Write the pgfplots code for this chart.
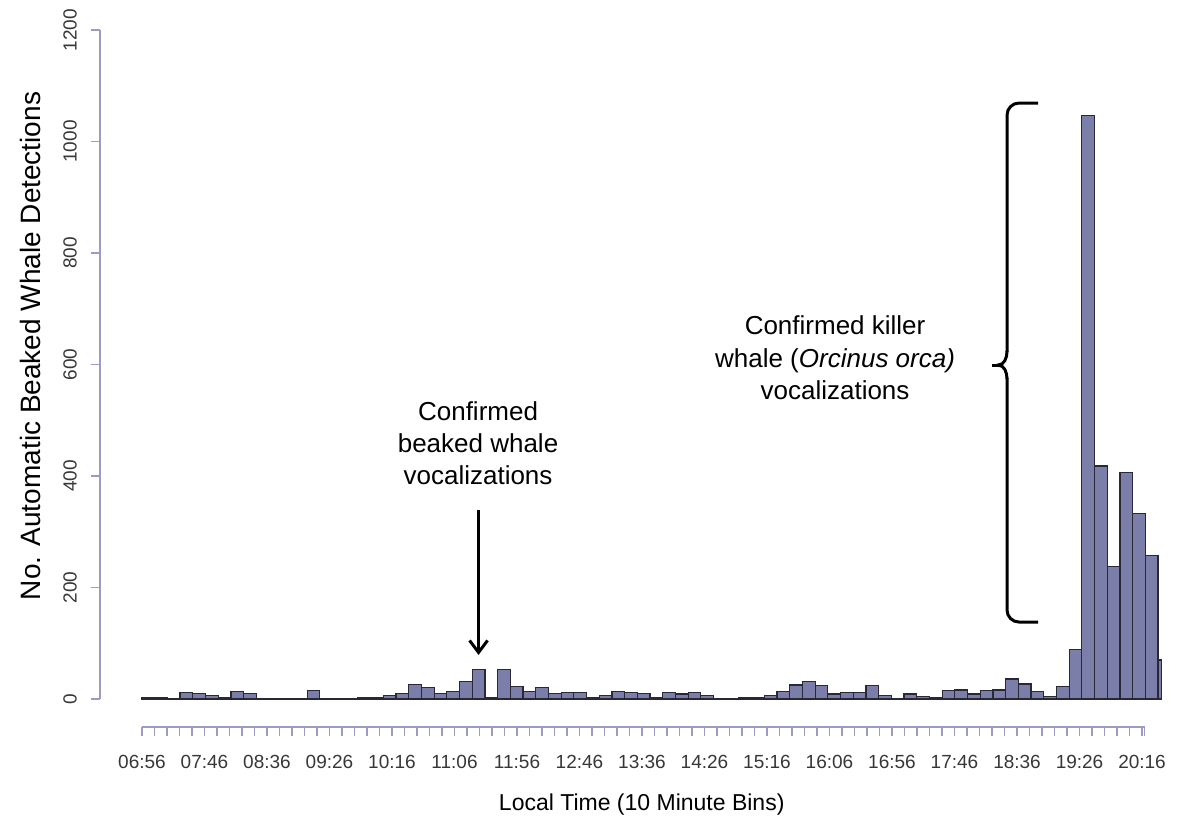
\documentclass[border=0pt]{standalone}
\usepackage{pgfplots}
\pgfplotsset{compat=1.18}
\usepackage{fontspec}
\setmainfont{Liberation Sans}
\usetikzlibrary{arrows.meta}
\definecolor{barfill}{RGB}{124,126,170}
\definecolor{baredge}{RGB}{40,40,55}
\definecolor{axcol}{RGB}{155,155,195}
\definecolor{ticklab}{RGB}{55,55,55}
\begin{document}
\begin{tikzpicture}
\path[use as bounding box] (-71pt,-61pt) rectangle (523pt,349.5pt);
\begin{axis}[
  at={(0,0)}, anchor=south west,
  scale only axis, width=509.905pt, height=334.5pt,
  xmin=0, xmax=80.3, ymin=0, ymax=1200,
  clip=false,
  axis x line*=bottom, axis y line*=left,
  x axis line style={draw=none},
  y axis line style={-, draw=axcol, line width=0.6pt, xshift=-21pt},
  tick align=outside,
  major tick length=4.5pt, minor tick length=4.5pt,
  xtick={0,4.92125,...,78.8},
  xticklabels={06:56,07:46,08:36,09:26,10:16,11:06,11:56,12:46,13:36,14:26,15:16,16:06,16:56,17:46,18:36,19:26,20:16},
  minor xtick={0,0.98425,...,78.8},
  xtick style={draw=axcol, line width=0.6pt, yshift=-14pt},
  ytick={0,200,...,1200},
  ytick style={draw=axcol, line width=0.6pt, xshift=-21pt},
  /pgf/number format/assume math mode=true,
  /pgf/number format/set thousands separator={},
  yticklabel style={rotate=90, anchor=south, font=\fontsize{9.5}{11}\selectfont, text=ticklab},
  yticklabel shift=24.5pt,
  xticklabel style={font=\fontsize{9.5}{11}\selectfont, text=ticklab},
  xticklabel shift=20pt,
  xlabel={Local Time (10 Minute Bins)},
  xlabel style={at={(axis description cs:0.490,-0.1584)}, anchor=center, font=\fontsize{11.5}{14}\selectfont},
  ylabel={No. Automatic Beaked Whale Detections},
  ylabel style={at={(axis description cs:-0.1098,0.5277)}, anchor=center, font=\fontsize{14}{16}\selectfont},
]
\addplot[ybar interval, fill=barfill, draw=baredge, line width=0.6pt] coordinates {
(0,3)(1,3)(2,1)(3,12)(4,10)(5,7)(6,2)(7,13)(8,10)(9,0)(10,0)(11,0)(12,0)(13,15)(14,0)(15,0)(16,0)(17,3)(18,3)(19,6)(20,10)(21,26)(22,20)(23,10)(24,13)(25,31)(26,53)(27,3)(28,53)(29,22)(30,13)(31,20)(32,10)(33,12)(34,12)(35,3)(36,6)(37,13)(38,12)(39,10)(40,3)(41,12)(42,9)(43,12)(44,6)(45,0)(46,0)(47,3)(48,3)(49,6)(50,13)(51,25)(52,31)(53,24)(54,9)(55,11)(56,11)(57,24)(58,6)(59,1)(60,9)(61,4)(62,2)(63,15)(64,16)(65,9)(66,15)(67,16)(68,36)(69,27)(70,13)(71,4)(72,22)(73,89)(74,1046)(75,418)(76,237)(77,407)(78,333)(79,258)(80,70)(80.3,0)
};
\draw[axcol, line width=0.6pt] ([yshift=-14pt]axis cs:0,0) -- ([yshift=-14pt]axis cs:78.95,0) -- ([yshift=-18.5pt]axis cs:78.95,0);
\node[align=center, font=\fontsize{13}{16.2}\selectfont] at (axis cs:26.46,459) {Confirmed\\beaked whale\\vocalizations};
\draw[line width=1.5pt, -{Straight Barb[length=6pt,width=9pt]}] (axis cs:26.5,339) -- (axis cs:26.5,79);
\node[align=center, font=\fontsize{13}{16.2}\selectfont] at (axis cs:54.57,612) {Confirmed killer\\whale (\textit{Orcinus orca)}\\vocalizations};
\draw[line width=1.5pt, rounded corners=6pt] (axis cs:70.55,1069) -- (axis cs:68.11,1069) -- (axis cs:68.11,622);
\draw[line width=1.5pt] (axis cs:68.11,624) to[out=-90,in=0] (axis cs:67.4,599) to[out=0,in=90] (axis cs:68.11,574);
\draw[line width=1.5pt] (axis cs:66.9,599) -- (axis cs:67.5,599);
\draw[line width=1.5pt, rounded corners=6pt] (axis cs:68.11,576) -- (axis cs:68.11,138) -- (axis cs:70.55,138);
\end{axis}
\end{tikzpicture}
\end{document}
